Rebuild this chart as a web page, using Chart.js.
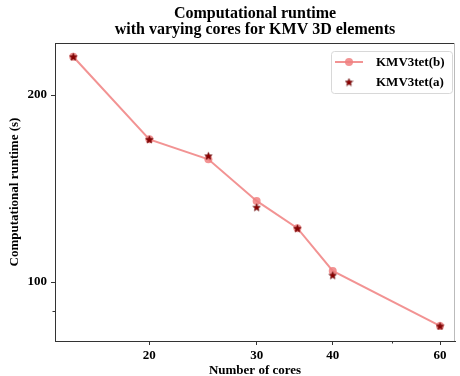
<!DOCTYPE html>
<html>
<head>
<meta charset="utf-8">
<script src="https://cdn.jsdelivr.net/npm/chart.js@4/dist/chart.umd.min.js"></script>
<style>
  html, body { margin: 0; padding: 0; background: #fff; }
  #wrap { width: 460px; height: 376px; }
</style>
</head>
<body>
<div id="wrap"><canvas id="c" width="460" height="376"></canvas></div>
<script>
// ---- data ----
const cores = [15, 20, 25, 30, 35, 40, 60];
const runtimeB = [230.5, 169.7, 157.6, 135.1, 122.1, 104.2, 85.0];
const runtimeA = [230.5, 169.7, 159.7, 132.0, 122.1, 102.6, 85.0];
const seriesLabels = ['KMV3tet(b)', 'KMV3tet(a)'];
const xTickValues = [20, 30, 40, 50, 60];
const xTickLabels = ['20', '30', '40', '', '60'];
const yTickValues = [90, 100, 200];
const yTickLabels = ['', '100', '200'];
const titleLines = ['Computational runtime', 'with varying cores for KMV 3D elements'];
const xTitle = 'Number of cores';
const yTitle = 'Computational runtime (s)';

const FONT = "'Liberation Serif', 'Times New Roman', serif";
const lineColor = 'rgba(240,128,128,0.85)';
const starColor = '#8b0000';

function makeStar(size, color) {
  const c = document.createElement('canvas');
  c.width = size; c.height = size;
  const g = c.getContext('2d');
  const cx = size / 2, cy = size / 2 + 0.4, R = size / 2 - 0.5, r = R * 0.45;
  g.beginPath();
  for (let i = 0; i < 10; i++) {
    const a = -Math.PI / 2 + i * Math.PI / 5;
    const rad = i % 2 === 0 ? R : r;
    const px = cx + rad * Math.cos(a), py = cy + rad * Math.sin(a);
    if (i === 0) g.moveTo(px, py); else g.lineTo(px, py);
  }
  g.closePath();
  g.fillStyle = color; g.fill();
  g.lineWidth = 0.5; g.strokeStyle = '#5a0000'; g.stroke();
  return c;
}
const starImg = makeStar(9, starColor);

const minorX = [50];
const minorY = [90];

const decorPlugin = {
  id: 'decor',
  afterDraw(chart) {
    const { ctx, chartArea: a, scales } = chart;
    ctx.save();
    // top & right frame
    ctx.strokeStyle = '#333';
    ctx.lineWidth = 1;
    ctx.beginPath();
    ctx.moveTo(a.left, a.top + 0.5); ctx.lineTo(a.right, a.top + 0.5);
    ctx.stroke();
    ctx.strokeStyle = '#bbb';
    ctx.beginPath();
    ctx.moveTo(a.right - 0.5, a.top); ctx.lineTo(a.right - 0.5, a.bottom);
    ctx.stroke();
    // minor ticks
    ctx.strokeStyle = '#333';
    minorX.forEach(v => {
      const px = Math.round(scales.x.getPixelForValue(v)) + 0.5;
      ctx.beginPath(); ctx.moveTo(px, a.bottom); ctx.lineTo(px, a.bottom + 2.5); ctx.stroke();
    });
    minorY.forEach(v => {
      const py = Math.round(scales.y.getPixelForValue(v)) + 0.5;
      ctx.beginPath(); ctx.moveTo(a.left, py); ctx.lineTo(a.left - 2.5, py); ctx.stroke();
    });
    // title
    ctx.fillStyle = '#000';
    ctx.font = 'bold 16px ' + FONT;
    ctx.textAlign = 'center';
    ctx.textBaseline = 'alphabetic';
    const cx = (a.left + a.right) / 2;
    ctx.fillText(titleLines[0], cx, 18);
    ctx.fillText(titleLines[1], cx, 34);
    // legend
    const bx = a.right - 124, by = a.top + 8, bw = 121, bh = 42;
    ctx.beginPath();
    if (ctx.roundRect) ctx.roundRect(bx + 0.5, by + 0.5, bw, bh, 3); else ctx.rect(bx + 0.5, by + 0.5, bw, bh);
    ctx.fillStyle = 'rgba(255,255,255,0.8)';
    ctx.fill();
    ctx.strokeStyle = '#d8d8d8';
    ctx.stroke();
    const hx0 = bx + 4, hx1 = bx + 32, hcx = bx + 18;
    const y1 = by + 11, y2 = by + 31;
    ctx.strokeStyle = lineColor; ctx.lineWidth = 2;
    ctx.beginPath(); ctx.moveTo(hx0, y1); ctx.lineTo(hx1, y1); ctx.stroke();
    ctx.fillStyle = lineColor;
    ctx.beginPath(); ctx.arc(hcx, y1, 4, 0, Math.PI * 2); ctx.fill();
    ctx.drawImage(starImg, hcx - starImg.width / 2, y2 - starImg.height / 2);
    ctx.fillStyle = '#000';
    ctx.font = 'bold 13px ' + FONT;
    ctx.textAlign = 'left';
    ctx.textBaseline = 'middle';
    ctx.fillText(seriesLabels[0], bx + 45, y1 + 1);
    ctx.fillText(seriesLabels[1], bx + 45, y2 + 1);
    ctx.restore();
  }
};

new Chart(document.getElementById('c'), {
  type: 'line',
  data: {
    datasets: [
      {
        label: seriesLabels[0],
        data: cores.map((x, i) => ({ x, y: runtimeB[i] })),
        borderColor: lineColor,
        backgroundColor: lineColor,
        borderWidth: 2,
        pointRadius: 4,
        pointBorderWidth: 0,
        pointStyle: 'circle',
        order: 2
      },
      {
        label: seriesLabels[1],
        data: cores.map((x, i) => ({ x, y: runtimeA[i] })),
        showLine: false,
        pointStyle: starImg,
        order: 1
      }
    ]
  },
  options: {
    responsive: false,
    animation: false,
    events: [],
    layout: { padding: { top: 43, right: 3, left: 0, bottom: 0 } },
    plugins: { legend: { display: false }, title: { display: false }, tooltip: { enabled: false } },
    scales: {
      x: {
        type: 'logarithmic',
        min: 14.0,
        max: 63.5,
        afterBuildTicks: s => { s.ticks = xTickValues.map(v => ({ value: v })); },
        afterFit: s => { s.height = 35; },
        ticks: {
          autoSkip: false, maxRotation: 0, padding: 3,
          color: '#000',
          font: { family: FONT, size: 13, weight: 'bold' },
          callback: v => { const i = xTickValues.indexOf(v); return i >= 0 ? xTickLabels[i] : ''; }
        },
        grid: {
          drawOnChartArea: false, drawTicks: true, tickLength: 4,
          tickColor: ctx => (ctx.tick && minorX.includes(ctx.tick.value)) ? 'rgba(0,0,0,0)' : '#333'
        },
        border: { display: true, color: '#333', width: 1 },
        title: {
          display: true, text: xTitle, color: '#000',
          font: { family: FONT, size: 13, weight: 'bold' },
          padding: { top: 0, bottom: -2 }
        }
      },
      y: {
        type: 'logarithmic',
        min: 80.4,
        max: 242.5,
        afterBuildTicks: s => { s.ticks = yTickValues.map(v => ({ value: v })); },
        afterFit: s => { s.width = 55; },
        ticks: {
          autoSkip: false, padding: 4,
          color: '#000',
          font: { family: FONT, size: 13, weight: 'bold' },
          callback: v => { const i = yTickValues.indexOf(v); return i >= 0 ? yTickLabels[i] : ''; }
        },
        grid: {
          drawOnChartArea: false, drawTicks: true, tickLength: 4,
          tickColor: ctx => (ctx.tick && minorY.includes(ctx.tick.value)) ? 'rgba(0,0,0,0)' : '#333'
        },
        border: { display: true, color: '#333', width: 1 },
        title: {
          display: true, text: yTitle, color: '#000',
          font: { family: FONT, size: 13, weight: 'bold' },
          padding: { top: 7, bottom: 0 }
        }
      }
    }
  },
  plugins: [decorPlugin]
});
</script>
</body>
</html>
